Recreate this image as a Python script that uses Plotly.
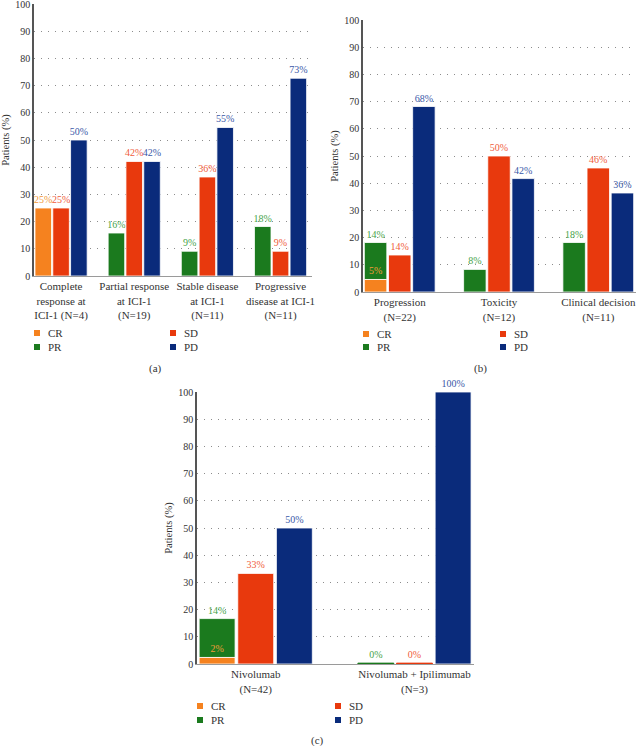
import plotly.graph_objects as go

W, H = 636, 746
FONT = "Liberation Serif"

# bar and label colours per response class
BAR_COLORS = {"CR": "#f5821f", "PR": "#1b7a1e", "SD": "#e8390d", "PD": "#0a2b7b"}
LABEL_COLORS = {"CR": "#f29a3a", "PR": "#48a44a", "SD": "#f05c3c", "PD": "#3a58a8"}

# (a) response at ICI-2 by response at ICI-1  (None = no bar / no label)
a_groups = ["Complete<br>response at<br>ICI-1 (N=4)", "Partial response<br>at ICI-1<br>(N=19)",
            "Stable disease<br>at ICI-1<br>(N=11)", "Progressive<br>disease at ICI-1<br>(N=11)"]
a_cr = [25, None, None, None]
a_pr = [None, 15.8, 9.1, 18.2]
a_sd = [25, 42.1, 36.4, 9.1]
a_pd = [50, 42.1, 54.6, 72.7]

# (b) by reason for stopping ICI-1
b_groups = ["Progression<br>(N=22)", "Toxicity<br>(N=12)", "Clinical decision<br>(N=11)"]
b_cr = [4.6, None, None]
b_pr = [13.6, 8.3, 18.2]
b_sd = [13.6, 50, 45.6]
b_pd = [68.2, 41.7, 36.4]

# (c) by ICI-2 regimen
c_groups = ["Nivolumab<br>(N=42)", "Nivolumab + Ipilimumab<br>(N=3)"]
c_cr = [2.4, None]
c_pr = [14.3, 0]
c_sd = [33.3, 0]
c_pd = [50, 100]


def fx(px):
    return px / W


def fy(px):
    return 1 - px / H


def bar(cats, vals, key, ax, group, base=None):
    """One response class of one panel; zero values drawn as a hairline."""
    shown = [None if v is None else max(v, 0.35) for v in vals]
    return go.Bar(
        x=cats, y=shown, base=base, name=key, showlegend=False,
        xaxis="x" + ax, yaxis="y" + ax, offsetgroup=group,
        marker=dict(color=BAR_COLORS[key],
                    line=dict(width=0.8, color=[BAR_COLORS[key] if v == 0 else "white" for v in vals])),
        text=["" if v is None else f"{v:.0f}%" for v in vals],
        textposition="outside", cliponaxis=False, constraintext="none",
        textfont=dict(size=10, color=LABEL_COLORS[key], family=FONT),
        hoverinfo="skip",
    )


fig = go.Figure()
panels = [("", a_groups, a_cr, a_pr, a_sd, a_pd),
          ("2", b_groups, b_cr, b_pr, b_sd, b_pd),
          ("3", c_groups, c_cr, c_pr, c_sd, c_pd)]
for ax, cats, cr, pr, sd, pd_ in panels:
    # PR sits on top of CR in the first slot; CR drawn last so its label stays visible
    fig.add_trace(bar(cats, pr, "PR", ax, "a", base=[v or 0 for v in cr]))
    fig.add_trace(bar(cats, cr, "CR", ax, "a"))
    fig.add_trace(bar(cats, sd, "SD", ax, "b"))
    fig.add_trace(bar(cats, pd_, "PD", ax, "c"))


def yaxis(top, bottom, anchor):
    return dict(domain=[fy(bottom), fy(top)], anchor=anchor, range=[0, 100], dtick=10,
                showgrid=True, gridcolor="#8c8c8c", griddash="1px,6px", gridwidth=1,
                showline=True, linecolor="#555555", linewidth=1.6, zeroline=False, ticks="",
                automargin=False, ticklabeloverflow="allow", tickfont=dict(size=10, color="#333"),
                title=dict(text="Patients (%)", font=dict(size=10.5, color="#333"), standoff=4))


def xaxis(left, right, rng, anchor):
    return dict(domain=[fx(left), fx(right)], anchor=anchor, type="category", range=rng,
                showgrid=False, showline=True, linecolor="#9a9a9a", linewidth=1, ticks="",
                automargin=False, tickfont=dict(size=11, color="#333"))


fig.update_layout(
    width=W, height=H, template="none",
    margin=dict(l=0, r=0, t=0, b=0),
    paper_bgcolor="white", plot_bgcolor="white",
    font=dict(family=FONT, color="#333"),
    barmode="group", bargap=0.27, bargroupgap=0.07,
    showlegend=False,
    xaxis=xaxis(34, 312, [-0.37, 3.43], "y"), yaxis=yaxis(4, 276, "x"),
    xaxis2=xaxis(363, 636, [-0.37, 2.38], "y2"), yaxis2=yaxis(20, 292, "x2"),
    xaxis3=xaxis(197, 474, [-0.37, 1.375], "y3"), yaxis3=yaxis(392, 664, "x3"),
)

# legends: two columns (CR/PR, SD/PD) under each panel
legend_pos = [(34, 170, 333, 347), (363, 500, 334, 347), (197, 335, 706, 720)]
layout_items = [("CR", 0, 0), ("PR", 0, 1), ("SD", 1, 0), ("PD", 1, 1)]
for c1, c2, r1, r2 in legend_pos:
    for key, col, row in layout_items:
        x0 = (c1, c2)[col]
        yc = (r1, r2)[row]
        fig.add_shape(type="rect", xref="paper", yref="paper",
                      x0=fx(x0), x1=fx(x0 + 6), y0=fy(yc + 3), y1=fy(yc - 3),
                      fillcolor=BAR_COLORS[key], line_width=0)
        fig.add_annotation(text=key, xref="paper", yref="paper", x=fx(x0 + 12), y=fy(yc),
                           xanchor="left", yanchor="middle", showarrow=False,
                           font=dict(size=11, color="#333"))

for label, x, y in [("(a)", 155, 368), ("(b)", 480, 368), ("(c)", 317, 740)]:
    fig.add_annotation(text=label, xref="paper", yref="paper", x=fx(x), y=fy(y),
                       xanchor="center", yanchor="middle", showarrow=False,
                       font=dict(size=11, color="#333"))

# drop the default page margin so the figure fills the window exactly
fig.write_html("out.html", config={"displayModeBar": False},
               post_script="document.body.style.margin='0';document.body.style.overflow='hidden';")
